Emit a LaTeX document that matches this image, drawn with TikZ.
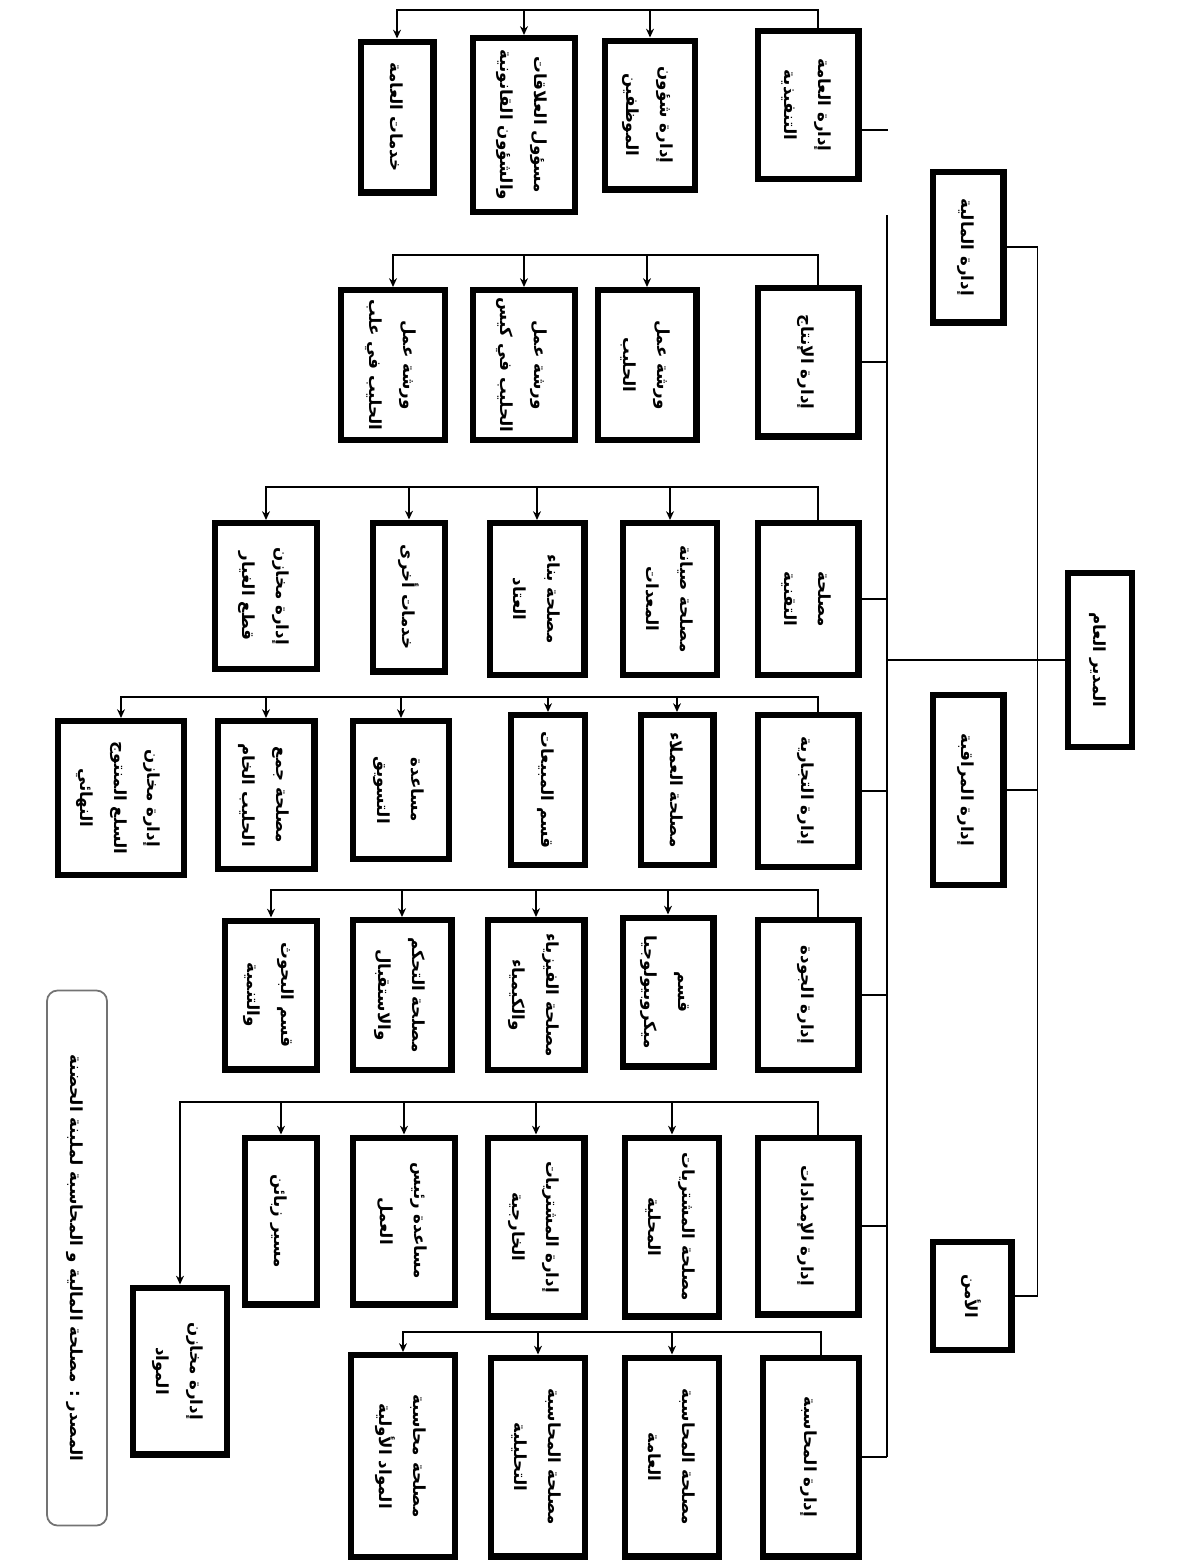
\documentclass[tikz,border=0pt]{standalone}
\usepackage{fontspec}
\usepackage{graphicx}
\usetikzlibrary{arrows.meta}
\newfontfamily\arabicfont[Script=Arabic]{DejaVu Sans}
\TeXXeTstate=1
\newcommand{\rl}[1]{\beginR #1\endR}
\newcommand{\vt}[1]{\rotatebox{-90}{\arabicfont\bfseries\fontsize{9.5}{19}\selectfont\begin{tabular}{@{}c@{}}#1\end{tabular}}}

\begin{document}
\begin{tikzpicture}[x=0.2mm,y=-0.2mm,>={Stealth[length=5pt,width=4.5pt]},
  unit/.style={draw,line width=3.6pt,inner sep=0pt,fill=white},
  sz/.style 2 args={minimum width=#1*0.2mm-3.6pt,minimum height=#2*0.2mm-3.6pt},
  link/.style={line width=0.8pt},
  note/.style={draw=black!55,line width=1pt,rounded corners=6pt,inner sep=0pt}]
\useasboundingbox (0,0) rectangle (1204,1562);

% head and first level
\node[unit,sz={70}{180}] (dg) at (1100,660) {\vt{\rl{المدير العام}}};
\node[unit,sz={77}{157}] (mal) at (968,247) {\vt{\rl{إدارة المالية}}};
\node[unit,sz={77}{196}] (mur) at (968,790) {\vt{\rl{إدارة المراقبة}}};
\node[unit,sz={85}{114}] (amn) at (972,1296) {\vt{\rl{الأمن}}};

% departments
\node[unit,sz={107}{154}] (tnf) at (808,105) {\vt{\rl{إدارة العامة}\\\rl{التنفيذية}}};
\node[unit,sz={107}{155}] (int) at (808,362) {\vt{\rl{إدارة الإنتاج}}};
\node[unit,sz={107}{158}] (tq) at (808,599) {\vt{\rl{مصلحة}\\\rl{التقنية}}};
\node[unit,sz={107}{158}] (tj) at (808,791) {\vt{\rl{إدارة التجارية}}};
\node[unit,sz={107}{156}] (jd) at (808,995) {\vt{\rl{إدارة الجودة}}};
\node[unit,sz={107}{183}] (imd) at (808,1226) {\vt{\rl{إدارة الإمدادات}}};
\node[unit,sz={102}{205}] (mh) at (811,1457) {\vt{\rl{إدارة المحاسبة}}};

% services
\node[unit,sz={96}{155}] (w11) at (650,115) {\vt{\rl{إدارة شؤون}\\\rl{الموظفين}}};
\node[unit,sz={108}{180}] (w12) at (524,125) {\vt{\rl{مسؤول العلاقات}\\\rl{والشؤون القانونية}}};
\node[unit,sz={79}{157}] (w13) at (397,117) {\vt{\rl{خدمات العامة}}};

\node[unit,sz={105}{156}] (w21) at (647,365) {\vt{\rl{ورشة عمل}\\\rl{الحليب}}};
\node[unit,sz={108}{156}] (w22) at (524,365) {\vt{\rl{ورشة عمل}\\\rl{الحليب في كيس}}};
\node[unit,sz={110}{156}] (w23) at (393,365) {\vt{\rl{ورشة عمل}\\\rl{الحليب في علب}}};

\node[unit,sz={100}{158}] (w31) at (670,599) {\vt{\rl{مصلحة صيانة}\\\rl{المعدات}}};
\node[unit,sz={101}{158}] (w32) at (537,599) {\vt{\rl{مصلحة بناء}\\\rl{العتاد}}};
\node[unit,sz={78}{155}] (w33) at (409,597) {\vt{\rl{خدمات أخرى}}};
\node[unit,sz={108}{152}] (w34) at (266,596) {\vt{\rl{إدارة مخازن}\\\rl{قطع الغيار}}};

\node[unit,sz={79}{156}] (w41) at (677,790) {\vt{\rl{مصلحة العملاء}}};
\node[unit,sz={80}{156}] (w42) at (548,790) {\vt{\rl{قسم المبيعات}}};
\node[unit,sz={102}{144}] (w43) at (401,790) {\vt{\rl{مساعدة}\\\rl{التسويق}}};
\node[unit,sz={103}{154}] (w44) at (266,795) {\vt{\rl{مصلحة جمع}\\\rl{الحليب الخام}}};
\node[unit,sz={132}{160}] (w45) at (121,798) {\vt{\rl{إدارة مخازن}\\\rl{السلع المنتوج}\\\rl{النهائي}}};

\node[unit,sz={97}{155}] (w51) at (668,992) {\vt{\rl{قسم}\\\rl{ميكروبيولوجيا}}};
\node[unit,sz={103}{156}] (w52) at (536,995) {\vt{\rl{مصلحة الفيزياء}\\\rl{والكيمياء}}};
\node[unit,sz={105}{156}] (w53) at (402,995) {\vt{\rl{مصلحة التحكم}\\\rl{والاستقبال}}};
\node[unit,sz={98}{155}] (w54) at (271,995) {\vt{\rl{قسم البحوث}\\\rl{والتنمية}}};

\node[unit,sz={100}{185}] (w61) at (672,1227) {\vt{\rl{مصلحة المشتريات}\\\rl{المحلية}}};
\node[unit,sz={103}{185}] (w62) at (536,1227) {\vt{\rl{إدارة المشتريات}\\\rl{الخارجية}}};
\node[unit,sz={108}{173}] (w63) at (404,1221) {\vt{\rl{مساعدة رئيس}\\\rl{العمل}}};
\node[unit,sz={78}{173}] (w64) at (281,1221) {\vt{\rl{مسير زبائن}}};
\node[unit,sz={100}{173}] (w65) at (180,1371) {\vt{\rl{إدارة مخازن}\\\rl{المواد}}};

\node[unit,sz={100}{205}] (w71) at (672,1457) {\vt{\rl{مصلحة المحاسبة}\\\rl{العامة}}};
\node[unit,sz={100}{205}] (w72) at (538,1457) {\vt{\rl{مصلحة المحاسبة}\\\rl{التحليلية}}};
\node[unit,sz={110}{208}] (w73) at (403,1456) {\vt{\rl{مصلحة محاسبة}\\\rl{المواد الأولية}}};

\node[note,minimum width=12mm,minimum height=107mm] (src) at (77,1258)
  {\vt{\rl{المصدر : مصلحة المالية و المحاسبة لملبنة الحضنة}}};

% spines
\coordinate (top2) at (887,215);
\coordinate (stub) at (888,130);
\draw[link] (dg.west) -- (dg.west -| top2);
\draw[link] (mal.east) -- ++(31,0) |- (amn.east);
\draw[link] (mur.east) -- ++(31,0);
\draw[link] (top2) -- (mh.east -| top2);
\draw[link] (tnf.east |- stub) -- (stub);
\foreach \n in {int,tq,tj,jd,imd,mh}
  \draw[link] (\n.east) -- (\n.east -| top2);

% brackets down to the services
\foreach \h/\y/\kids in {tnf/10/{w11,w12,w13},int/255/{w21,w22,w23},
    tq/487/{w31,w32,w33,w34},tj/697/{w41,w42,w43,w44,w45},
    jd/890/{w51,w52,w53,w54},imd/1102/{w61,w62,w63,w64,w65},
    mh/1332/{w71,w72,w73}}
  \foreach \c in \kids
    \draw[link,->] ([xshift=2mm]\h.north) |- (\c.north |- 0,\y) -- (\c.north);
\end{tikzpicture}
\end{document}
